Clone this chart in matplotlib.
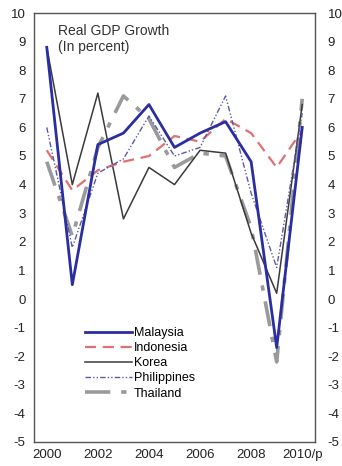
import matplotlib
matplotlib.use("Agg")
import matplotlib.pyplot as plt

plt.rcParams["font.family"] = ["Liberation Sans", "DejaVu Sans"]
plt.rcParams["axes.unicode_minus"] = False

years = list(range(2000, 2011))
xlabels = ["2000", "2002", "2004", "2006", "2008", "2010/p"]
xticks = [2000, 2002, 2004, 2006, 2008, 2010]

malaysia = [8.8, 0.5, 5.4, 5.8, 6.8, 5.3, 5.8, 6.2, 4.8, -1.7, 6.0]
indonesia = [5.2, 3.8, 4.5, 4.8, 5.0, 5.7, 5.5, 6.3, 5.8, 4.6, 5.9]
korea = [8.8, 4.0, 7.2, 2.8, 4.6, 4.0, 5.2, 5.1, 2.3, 0.2, 6.8]
philippines = [6.0, 1.8, 4.4, 4.9, 6.4, 5.0, 5.3, 7.1, 3.7, 1.1, 6.5]
thailand = [4.8, 2.2, 5.3, 7.1, 6.3, 4.6, 5.1, 5.0, 2.5, -2.2, 7.0]

fig = plt.figure(figsize=(3.42, 4.66), dpi=100)
ax = fig.add_axes([34/342, 1-442/466, (315-34)/342, (442-13)/466])

ax.plot(years, thailand, color="#9a9a9a", lw=2.6, dashes=[7, 3, 1.5, 3], label="Thailand", zorder=2)
ax.plot(years, korea, color="#3a3a3a", lw=1.1, label="Korea", zorder=3)
ax.plot(years, indonesia, color="#e07070", lw=1.6, dashes=[5, 3], label="Indonesia", zorder=3)
ax.plot(years, philippines, color="#5a5aa8", lw=1.0, dashes=[4, 1.5, 1, 1.5, 1, 1.5], label="Philippines", zorder=3)
ax.plot(years, malaysia, color="#2a2ea0", lw=2.0, label="Malaysia", zorder=4)

ax.set_xlim(1999.5, 2010.5)
ax.set_ylim(-5, 10)
ax.set_yticks(range(-5, 11))
ax.set_xticks(xticks)
ax.set_xticklabels(xlabels)
ax.tick_params(length=0, labelsize=9.5, colors="#222222")
ax.tick_params(axis="y", pad=6)
ax.tick_params(axis="x", pad=5)
for s in ax.spines.values():
    s.set_color("#555555")
    s.set_linewidth(1.0)

ax2 = ax.twinx()
ax2.set_ylim(-5, 10)
ax2.set_yticks(range(-5, 11))
ax2.tick_params(length=0, labelsize=9.5, colors="#222222", pad=9)
for s in ax2.spines.values():
    s.set_visible(False)

ax.text(0.085, 0.975, "Real GDP Growth\n(In percent)", transform=ax.transAxes,
        va="top", ha="left", fontsize=10, color="#333333", linespacing=1.2)

h, l = ax.get_legend_handles_labels()
order = ["Malaysia", "Indonesia", "Korea", "Philippines", "Thailand"]
hd = dict(zip(l, h))
ax.legend([hd[k] for k in order], order, loc="upper left", bbox_to_anchor=(0.181, 0.268),
          frameon=False, fontsize=9, handlelength=3.8, handletextpad=0.1,
          labelspacing=0.25, borderpad=0, borderaxespad=0)

fig.savefig("out.png", dpi=100)
